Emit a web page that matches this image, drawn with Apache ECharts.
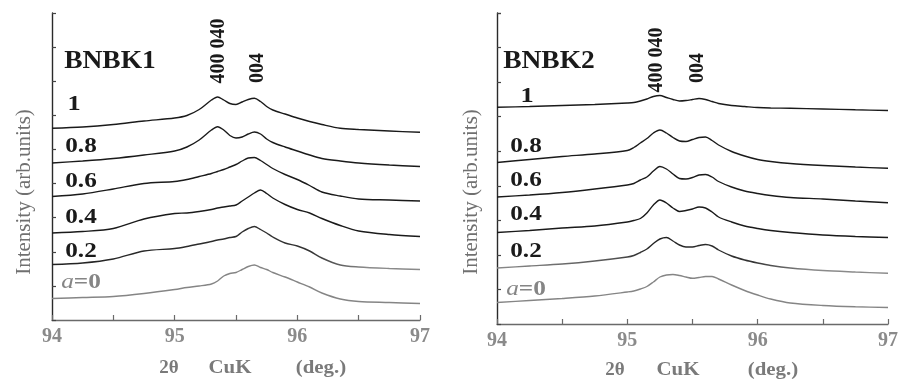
<!DOCTYPE html>
<html>
<head>
<meta charset="utf-8">
<script src="https://cdn.jsdelivr.net/npm/echarts@6/dist/echarts.min.js"></script>
<style>
  html, body { margin: 0; padding: 0; background: #fff; }
  #chart { width: 901px; height: 381px; }
</style>
</head>
<body>
<div id="chart"></div>
<script>
// 2θ positions (deg.) of the sampled points, BNBK1 and BNBK2 scans
const thetaBNBK1 = [94.0, 94.25, 94.5, 94.75, 95.0, 95.1, 95.2, 95.3, 95.35, 95.4, 95.45, 95.5, 95.55, 95.6, 95.65, 95.7, 95.75, 95.8, 95.9, 96.0, 96.1, 96.2, 96.35, 96.5, 96.75, 97.0];
const thetaBNBK2 = [94.0, 94.25, 94.5, 94.75, 95.0, 95.05, 95.1, 95.15, 95.2, 95.25, 95.3, 95.35, 95.4, 95.45, 95.5, 95.55, 95.6, 95.65, 95.7, 95.8, 95.9, 96.0, 96.1, 96.25, 96.5, 96.75, 97.0];

// Offset intensities (arb. units), one array per composition a
const bnbk1_a1   = [191.7, 193, 195.5, 199, 202, 204.5, 210.5, 220, 223, 220, 216.5, 215.5, 218, 220.5, 221.7, 218.5, 213.5, 210, 206, 202, 198.5, 195.5, 191.7, 190.5, 189, 187.7];
const bnbk1_a08  = [157, 159, 161.5, 165, 169, 173, 180, 190, 193.3, 190, 184.5, 182, 183, 186, 188, 186, 181, 177.5, 173, 169, 165, 161.5, 159, 157, 155, 153.5];
const bnbk1_a06  = [123.5, 126, 131, 136.5, 138.5, 140.5, 143.5, 146.5, 148.5, 150.5, 153, 155.5, 159, 162, 162.5, 159.5, 155.5, 151.5, 145.5, 140.5, 134.5, 128, 124, 121, 120, 119];
const bnbk1_a04  = [87, 88.5, 91.5, 101, 106.5, 107, 108.5, 110.5, 112, 113, 114, 115, 119, 123, 127, 130, 126.5, 122, 115.5, 110.5, 107, 101.5, 94.5, 89, 85.5, 83.5];
const bnbk1_a02  = [55.5, 57, 61, 69, 71.5, 73.5, 76, 78.5, 80, 81, 82.5, 83.5, 88, 91.5, 93.5, 90.5, 87, 83, 77, 74, 69, 62, 55, 53, 51.5, 50.5];
const bnbk1_a0   = [21.5, 22.5, 23.5, 26.5, 30.5, 32.5, 34, 36, 39, 44, 46.5, 47.5, 50.5, 53.5, 55, 52.5, 50.5, 47.5, 43, 38, 33, 27, 21, 18.5, 17.5, 16.5];

const bnbk2_a1   = [216.7, 217.5, 218.5, 219.5, 221, 221.5, 223, 225, 227.5, 228.5, 226.5, 224.5, 223, 223.5, 224.5, 225.5, 224.5, 222.5, 220.5, 218.5, 217.5, 216.5, 216, 215.7, 215, 214.2, 213.5];
const bnbk2_a08  = [161.5, 164.5, 167.5, 170, 173.5, 176.5, 181, 185.5, 191, 194, 191, 186.5, 183, 182.5, 184.5, 186.5, 187, 183.5, 179, 172.5, 168, 164.5, 162.5, 160.5, 158.5, 157, 155.7];
const bnbk2_a06  = [127, 129, 131.5, 135, 139, 140.5, 144, 147, 153, 157.5, 155, 150, 145.5, 145, 146.5, 149, 149.5, 147, 142.5, 137, 133, 130.5, 128.5, 126.5, 125, 123, 121.3];
const bnbk2_a04  = [91.5, 93.5, 96, 98, 102, 103.5, 105.5, 111, 119, 124, 121, 116, 112.5, 113.5, 115, 117, 116, 112, 107, 102, 98, 95.5, 93.5, 91.5, 89, 87.5, 86.5];
const bnbk2_a02  = [56, 58, 60, 63, 67, 68.5, 71.5, 75, 80.5, 85, 86.5, 83, 79, 77, 77, 78.5, 79.5, 78, 74, 68, 64, 61, 58.5, 56, 53.5, 52, 50.7];
const bnbk2_a0   = [21.5, 23.5, 25.5, 28, 32, 33, 35, 37.5, 42, 47, 49, 49.5, 48.5, 47, 45.7, 46.5, 47.5, 47.5, 45, 39, 33.5, 29, 25, 21, 18.5, 17.2, 16.5];

const sampleNames = ['BNBK1', 'BNBK2'];
const compLabels = ['1', '0.8', '0.6', '0.4', '0.2', 'a=0'];
const peakLabels = ['400 040', '004'];
const xTickLabels = ['94', '95', '96', '97'];
const xTitleParts = ['2\u03B8', 'CuK', '(deg.)'];
const yTitle = 'Intensity (arb.units)';

const SERIF = '"Liberation Serif", "Times New Roman", serif';
const DARK = '#1a1a1a';
const GREY = '#858585';

function pairs(xs, ys) { return xs.map((x, i) => [x, ys[i]]); }

const chart = echarts.init(document.getElementById('chart'), null, { renderer: 'canvas' });

function xAxisFor(gridIndex) {
  return {
    gridIndex, type: 'value', min: 94, max: 97, interval: 0.5,
    axisLine: { show: true, lineStyle: { color: '#6a6a6a', width: 1.4 } },
    axisTick: { show: true, inside: true, length: 5, lineStyle: { color: '#6a6a6a', width: 1.2 } },
    splitLine: { show: false },
    axisLabel: {
      margin: 7, color: '#8a8a8a', fontFamily: SERIF, fontSize: 20, fontWeight: 'bold',
      formatter: v => {
        const idx = xTickLabels.indexOf(String(Math.round(v)));
        return Math.abs(v - Math.round(v)) < 1e-6 && idx >= 0 ? xTickLabels[idx] : '';
      }
    }
  };
}
function yAxisFor(gridIndex, max) {
  return {
    gridIndex, type: 'value', min: 0, max: max, interval: max / 9,
    axisLine: { show: true, lineStyle: { color: '#2a2a2a', width: 1.4 } },
    axisTick: { show: true, inside: true, length: 4, lineStyle: { color: '#444', width: 1.2 } },
    axisLabel: { show: false },
    splitLine: { show: false }
  };
}

function lineSeries(name, xi, xs, ys, color) {
  return {
    name, type: 'line', xAxisIndex: xi, yAxisIndex: xi,
    data: pairs(xs, ys), showSymbol: false, smooth: 0.3,
    lineStyle: { color, width: 1.4 }, z: 3
  };
}

const grad1 = new echarts.graphic.LinearGradient(0, 0, 1, 0, [
  { offset: 0, color: '#222' }, { offset: 0.7, color: '#333' }, { offset: 0.85, color: '#8a8a8a' }, { offset: 1, color: '#8a8a8a' }
]);
const grad2 = new echarts.graphic.LinearGradient(0, 0, 1, 0, [
  { offset: 0, color: '#8a8a8a' }, { offset: 0.3, color: '#555' }, { offset: 0.4, color: '#222' },
  { offset: 0.65, color: '#333' }, { offset: 0.8, color: '#8a8a8a' }, { offset: 1, color: '#8a8a8a' }
]);

const series = [
  lineSeries(compLabels[0], 0, thetaBNBK1, bnbk1_a1, DARK),
  lineSeries(compLabels[1], 0, thetaBNBK1, bnbk1_a08, DARK),
  lineSeries(compLabels[2], 0, thetaBNBK1, bnbk1_a06, DARK),
  lineSeries(compLabels[3], 0, thetaBNBK1, bnbk1_a04, DARK),
  lineSeries(compLabels[4], 0, thetaBNBK1, bnbk1_a02, grad1),
  lineSeries(compLabels[5], 0, thetaBNBK1, bnbk1_a0, GREY),
  lineSeries(compLabels[0], 1, thetaBNBK2, bnbk2_a1, DARK),
  lineSeries(compLabels[1], 1, thetaBNBK2, bnbk2_a08, DARK),
  lineSeries(compLabels[2], 1, thetaBNBK2, bnbk2_a06, DARK),
  lineSeries(compLabels[3], 1, thetaBNBK2, bnbk2_a04, DARK),
  lineSeries(compLabels[4], 1, thetaBNBK2, bnbk2_a02, grad2),
  lineSeries(compLabels[5], 1, thetaBNBK2, bnbk2_a0, GREY)
];

// Text helpers for the panel annotations
function txt(text, x, y, opt) {
  opt = opt || {};
  return {
    type: 'text', x, y, rotation: opt.rot || 0,
    scaleX: opt.sx || 1, scaleY: 1, z: 10,
    style: {
      text, fill: opt.color || DARK,
      font: (opt.weight || 'bold') + ' ' + (opt.size || 21) + 'px ' + SERIF,
      align: 'center', verticalAlign: 'middle',
      rich: opt.rich
    }
  };
}
const aRich = {
  i: { fontStyle: 'italic', fontWeight: 'normal', fontFamily: SERIF, fontSize: 22, fill: GREY },
  n: { fontWeight: 'bold', fontFamily: SERIF, fontSize: 22, fill: GREY }
};

function panelText(p) {
  const out = [];
  out.push(txt(sampleNames[p.i], p.nameX, 62, { size: 25, sx: 1.1 }));
  out.push(txt(peakLabels[0], p.pk1X, p.pk1Y, { size: 20, rot: Math.PI / 2 }));
  out.push(txt(peakLabels[1], p.pk2X, p.pk2Y, { size: 20, rot: Math.PI / 2 }));
  out.push(txt(compLabels[0], p.oneX, p.ys[0], { size: 22, sx: 1.2 }));
  for (let k = 1; k < 5; k++) out.push(txt(compLabels[k], p.labX, p.ys[k], { size: 21, sx: 1.2 }));
  out.push(txt('{i|a}{n|=0}', p.labX, p.ys[5], { sx: 1.15, color: GREY, rich: aRich }));
  out.push(txt(yTitle, p.yTitleX, 192, { size: 21, weight: 'normal', color: '#707070', rot: Math.PI / 2 }));
  out.push(txt(xTitleParts[0], p.tX[0], p.tY, { size: 19, color: '#7a7a7a' }));
  out.push(txt(xTitleParts[1], p.tX[1], p.tY, { size: 19, color: '#7a7a7a', sx: 1.1 }));
  out.push(txt(xTitleParts[2], p.tX[2], p.tY, { size: 19, color: '#7a7a7a', sx: 1.1 }));
  return out;
}

const graphics = [].concat(
  panelText({ i: 0, nameX: 110, pk1X: 219, pk1Y: 51, pk2X: 258, pk2Y: 68, oneX: 74, labX: 81,
              ys: [104, 147, 182, 218, 252, 282], yTitleX: 24, tX: [169, 230, 321], tY: 368 }),
  panelText({ i: 1, nameX: 549, pk1X: 657, pk1Y: 60, pk2X: 698, pk2Y: 68, oneX: 527, labX: 526,
              ys: [96, 147, 181, 215, 252, 289], yTitleX: 471, tX: [615, 678, 773], tY: 370 })
);

chart.setOption({
  animation: false,
  backgroundColor: '#ffffff',
  grid: [
    { left: 52, top: 13, width: 368, height: 307 },
    { left: 497, top: 13, width: 392, height: 311 }
  ],
  xAxis: [xAxisFor(0), xAxisFor(1)],
  yAxis: [yAxisFor(0, 307), yAxisFor(1, 311)],
  series,
  graphic: graphics
});
</script>
</body>
</html>
